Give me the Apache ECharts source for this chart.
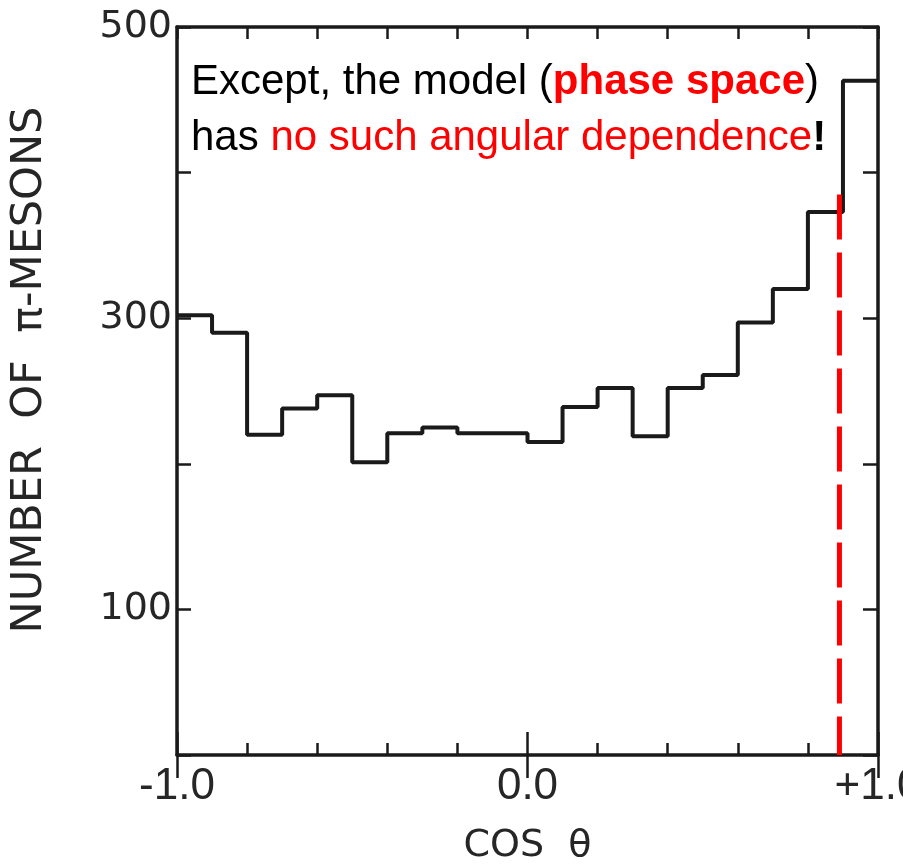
<!DOCTYPE html>
<html><head><meta charset="utf-8">
<script src="https://cdn.jsdelivr.net/npm/echarts@6/dist/echarts.min.js"></script>
<style>html,body{margin:0;padding:0;background:#fff}#c{width:903px;height:864px}</style>
</head><body><div id="c"></div>
<script>
// bin edges of cos(theta)
const binEdges = [-1.0,-0.9,-0.8,-0.7,-0.6,-0.5,-0.4,-0.3,-0.2,-0.1,0.0,0.1,0.2,0.3,0.4,0.5,0.6,0.7,0.8,0.9,1.0];
// number of pi-mesons per bin
const counts = [302,290,220,238,247,201,221,225,221,221,215,239,252,219,252,261,297,320,373,463];
// phase-space marker line (red dashed)
const markerX = [0.89, 0.89];
const markerY = [385, 0];
// tick labels
const xTickLabels = {'-1': '-1.0', '0': '0.0', '1': '+1.0'};
const yTickLabels = [100, 300, 500];

const histData = binEdges.map((e, i) => [e, counts[Math.min(i, counts.length - 1)]]);
const markerData = markerX.map((x, i) => [x, markerY[i]]);

const ink = '#1a1a1a';
const labelInk = '#262626';

function xFmt(v) {
  if (Math.abs(v + 1) < 1e-9) return xTickLabels['-1'];
  if (Math.abs(v) < 1e-9) return xTickLabels['0'];
  if (Math.abs(v - 1) < 1e-9) return xTickLabels['1'];
  return '';
}
function yFmt(v) {
  return yTickLabels.indexOf(Math.round(v)) >= 0 ? String(Math.round(v)) : '';
}

const chart = echarts.init(document.getElementById('c'), null, {renderer: 'canvas'});
const axisLine = {show: true, onZero: false, lineStyle: {color: ink, width: 3.5}};
chart.setOption({
  animation: false,
  backgroundColor: '#fff',
  grid: {left: 177, top: 27, width: 701, height: 728, containLabel: false, outerBoundsMode: 'none'},
  xAxis: [
    {type: 'value', min: -1, max: 1, interval: 0.2, position: 'bottom',
     axisLine: axisLine, splitLine: {show: false},
     axisTick: {show: true, inside: true, length: 12, lineStyle: {color: ink, width: 2.5}},
     axisLabel: {formatter: xFmt, margin: 10, color: labelInk, fontSize: 44, fontFamily: 'Liberation Sans, Arial', showMinLabel: true, showMaxLabel: true, hideOverlap: false},
     name: 'COS  θ', nameLocation: 'middle', nameGap: 72,
     nameTextStyle: {fontSize: 38, fontFamily: 'DejaVu Sans', color: labelInk}},
    {type: 'value', min: -1, max: 1, interval: 0.2, position: 'top',
     axisLine: axisLine, splitLine: {show: false},
     axisTick: {show: true, inside: true, length: 12, lineStyle: {color: ink, width: 2.5}},
     axisLabel: {show: false}},
    {type: 'value', min: -1, max: 1, interval: 1, position: 'bottom',
     axisLine: {show: false}, splitLine: {show: false},
     axisTick: {show: true, inside: true, length: 23, lineStyle: {color: ink, width: 2.5}},
     axisLabel: {show: false}},
    {type: 'value', min: -1, max: 1, interval: 1, position: 'top',
     axisLine: {show: false}, splitLine: {show: false},
     axisTick: {show: true, inside: true, length: 23, lineStyle: {color: ink, width: 2.5}},
     axisLabel: {show: false}}
  ],
  yAxis: [
    {type: 'value', min: 0, max: 500, interval: 100, position: 'left',
     axisLine: axisLine, splitLine: {show: false},
     axisTick: {show: true, inside: true, length: 14, lineStyle: {color: ink, width: 2.5}},
     axisLabel: {formatter: yFmt, margin: 5, color: labelInk, fontSize: 38, fontFamily: 'DejaVu Sans', showMaxLabel: true}},
    {type: 'value', min: 0, max: 500, interval: 100, position: 'right',
     axisLine: axisLine, splitLine: {show: false},
     axisTick: {show: true, inside: true, length: 15, lineStyle: {color: ink, width: 2.5}},
     axisLabel: {show: false}}
  ],
  series: [
    {type: 'line', name: 'histogram', data: histData, step: 'end', symbol: 'none',
     xAxisIndex: 0, yAxisIndex: 0, clip: false,
     lineStyle: {color: ink, width: 4}},
    {type: 'line', name: 'phase space', data: markerData, symbol: 'none',
     xAxisIndex: 0, yAxisIndex: 0,
     lineStyle: {color: '#ff0000', width: 5, type: [45, 13]}}
  ],
  graphic: [
    {type: 'text', x: 30, y: 370, rotation: Math.PI / 2, z: 100,
     style: {text: 'NUMBER  OF  π-MESONS', align: 'center', verticalAlign: 'middle',
       fontSize: 43, fontFamily: 'DejaVu Sans', fill: labelInk}},
    {type: 'text', x: 191, y: 82, z: 100,
     style: {text: '{a|Except, the model (}{b|phase space}{a|)}', verticalAlign: 'middle', align: 'left',
       rich: {
         a: {fontSize: 42, fontFamily: 'Liberation Sans, Arial', fill: '#000'},
         b: {fontSize: 42, fontFamily: 'Liberation Sans, Arial', fontWeight: 'bold', fill: '#ff0000'}
       }}},
    {type: 'text', x: 191, y: 138, z: 100,
     style: {text: '{a|has }{r|no such angular dependence}{c|!}', verticalAlign: 'middle', align: 'left',
       rich: {
         a: {fontSize: 42, fontFamily: 'Liberation Sans, Arial', fill: '#000'},
         r: {fontSize: 42, fontFamily: 'Liberation Sans, Arial', fill: '#ff0000'},
         c: {fontSize: 42, fontFamily: 'Liberation Sans, Arial', fontWeight: 'bold', fill: '#000'}
       }}}
  ]
});
</script>
</body></html>
